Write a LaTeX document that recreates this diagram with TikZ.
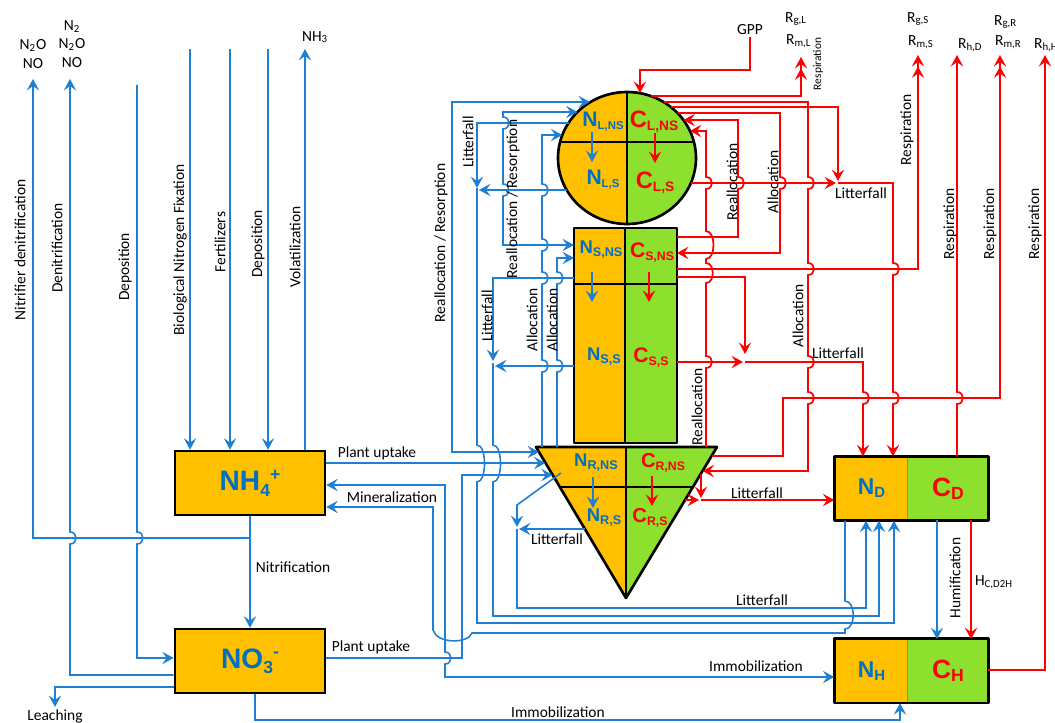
\documentclass[tikz,border=0pt]{standalone}
\usepackage{fontspec}
\setmainfont{Carlito}
\newfontfamily\arialfont{Liberation Sans}
\usetikzlibrary{arrows.meta,positioning}

\definecolor{poolN}{HTML}{FFC000}
\definecolor{poolNedge}{HTML}{C08A00}
\definecolor{poolC}{HTML}{8EE02E}
\definecolor{flowN}{HTML}{1F7FD2}
\definecolor{textN}{HTML}{0070C0}
\definecolor{flowC}{HTML}{FF0000}

% jump over a crossing line (going down / going up)
\newcommand{\jd}[2]{-- (#1,#2-6) .. controls (#1+8,#2-6) and (#1+8,#2+6) .. (#1,#2+6)}
\newcommand{\ju}[2]{-- (#1,#2+6) .. controls (#1+8,#2+6) and (#1+8,#2-6) .. (#1,#2-6)}
% lowered index of a pool name
\newcommand{\lo}[2]{\raisebox{-1.8pt}{\fontsize{#1}{#1}\selectfont #2}}

\tikzset{
  nflow/.style={draw=flowN, line width=0.9pt},
  cflow/.style={draw=flowC, line width=1pt},
  lbl/.style={font=\fontsize{8.8}{10.5}\selectfont, inner sep=1pt},
  vlbl/.style={lbl, rotate=90},
  ntxt/.style={text=textN, font=\arialfont\bfseries\fontsize{#1}{#1}\selectfont, inner sep=0pt},
  ctxt/.style={text=flowC, font=\arialfont\bfseries\fontsize{#1}{#1}\selectfont, inner sep=0pt},
  npool/.style={draw=poolNedge, line width=0.8pt, fill=poolN, minimum width=1.46cm, minimum height=1.26cm},
  cpool/.style={fill=poolC, minimum width=1.6cm, minimum height=1.26cm},
  soil/.style={draw, line width=1.5pt, fill=poolN, minimum width=3cm, minimum height=1.28cm,
    text=textN, font=\arialfont\bfseries\fontsize{16}{16}\selectfont},
  rim/.style={line width=1.5pt, line join=round},
  >={Stealth[length=6.5pt, width=7pt, inset=2.5pt]}
}

\begin{document}
\begin{tikzpicture}[x=0.02cm, y=-0.02cm]
\useasboundingbox (0,0) rectangle (1055,723);

% ---- plant pools
% leaf
\begin{scope}
  \clip (627,158) ellipse [x radius=69, y radius=66];
  \fill[poolN] (550,85) rectangle (627,230);
  \fill[poolC] (627,85) rectangle (705,230);
  \draw[rim] (550,142) -- (705,142) (627,85) -- (627,230);
\end{scope}
\draw[rim] (627,158) ellipse [x radius=69, y radius=66];
% stem
\fill[poolN] (574,228) rectangle (625,443);
\fill[poolC] (625,228) rectangle (677,443);
\draw[rim] (574,228) rectangle (677,443);
\draw[rim] (625,228) -- (625,443) (574,284) -- (677,284);
% root
\fill[poolN] (536,447) -- (626,447) -- (626,598) -- cycle;
\fill[poolC] (626,447) -- (717,447) -- (626,598) -- cycle;
\draw[rim] (536,447) -- (717,447) -- (626,598) -- cycle;
\draw[rim] (626,447) -- (626,598) (560,487) -- (693,487);

\node[ntxt=12] (nlns) at (603,122) {N\lo{6.5}{L,NS}};
\node[ctxt=13.5] (clns) at (654,122) {C\lo{7.8}{L,NS}};
\node[ntxt=12] (nls) at (603,180) {N\lo{6.5}{L,S}};
\node[ctxt=13.5] (cls) at (655,183) {C\lo{7.8}{L,S}};
\node[ntxt=10.5] (nsns) at (601,250) {N\lo{7.2}{S,NS}};
\node[ctxt=12] (csns) at (652,253) {C\lo{7}{S,NS}};
\node[ntxt=10.5] (nss) at (604,357) {N\lo{7.2}{S,S}};
\node[ctxt=12] (css) at (651,358) {C\lo{7}{S,S}};
\node[ntxt=10.5] (nrns) at (596,463) {N\lo{7.2}{R,NS}};
\node[ctxt=11.5] (crns) at (663,463) {C\lo{7}{R,NS}};
\node[ntxt=10.5] (nrs) at (604,518) {N\lo{7.2}{R,S}};
\node[ctxt=11.5] (crs) at (650,518) {C\lo{7}{R,S}};

\draw[nflow,->] (592,132) -- (592,162);
\draw[cflow,->] (655,133) -- (655,163);
\draw[nflow,->] (592,272) -- (592,302);
\draw[cflow,->] (649,272) -- (649,302);
\draw[nflow,->] (593,477) -- (593,508);
\draw[cflow,->] (652,476) -- (652,506);

% ---- soil pools
\node[soil] (nh4) at (250,483) {NH\raisebox{-3pt}{\fontsize{10}{10}\selectfont 4}\raisebox{6pt}{\fontsize{10}{10}\selectfont +}};
\node[soil] (no3) at (250,661) {NO\raisebox{-3pt}{\fontsize{10}{10}\selectfont 3}\raisebox{6pt}{\fontsize{10}{10}\selectfont -}};
\node[npool, ntxt=13] (nd) at (871.5,488.5) {N\lo{8.5}{D}};
\node[cpool, ctxt=15] (cd) at (948,488.5) {C\lo{10}{D}};
\draw[rim] (nd.north west) rectangle (cd.south east);
\node[npool, ntxt=13] (nh) at (871.5,671) {N\lo{8.5}{H}};
\node[cpool, ctxt=15] (ch) at (948,671) {C\lo{10}{H}};
\draw[rim] (nh.north west) rectangle (ch.south east);

% ---- nitrogen, soil side
\draw[nflow,->] (190,49) -- (nh4.north -| 190,0);
\draw[nflow,->] (230,49) -- (nh4.north -| 230,0);
\draw[nflow,->] (268,49) -- (nh4.north -| 268,0);
\draw[nflow,->] (nh4.north -| 305,0) -- (305,49);
\draw[nflow,->] (nh4.south -| 250,0) -- (no3.north -| 250,0);
\coordinate (nit) at (250,538);
\draw[nflow,->] (nit) -- (33,538) -- (33,79);
\draw[nflow,->] (no3.west |- 0,675) -- (70,675) \ju{70}{538} -- (70,79);
\draw[nflow,->] (137,85) \jd{137}{538} -- (137,658) -- (no3.west |- 0,658);
\draw[nflow,->] (no3.west |- 0,687) -- (55,687) -- (55,707);
\draw[nflow,->] (no3.south -| 255,0) -- (255,720) -- (900,720) -- (nh.south -| 900,0);

% ---- nitrogen, plant side
\coordinate (rtA) at (539,452);
\coordinate (rtB) at (545.5,463);
\coordinate (rtC) at (552.7,475);
\draw[nflow,->] (nh4.east |- 0,463) -- (rtB);
\draw[nflow,->] (no3.east |- 0,658) -- (462,658) -- (462,475) -- (rtC);
\draw[nflow,<->] (nh4.east |- 0,485) -- (445,485) \jd{445}{658} -- (445,677) -- (nh.west |- 0,677);
\draw[nflow,->] (nd.south -| 845,0) -- (845,601) .. controls (856,601) and (856,629) .. (845,629)
  -- (845,633) -- (472,633) .. controls (468,644) and (437,644) .. (433,630) -- (433,507) -- (nh4.east |- 0,507);
\draw[nflow,<->] (590,102) -- (452,102) -- (452,452) -- (rtA);
\draw[nflow,<->] (577.5,112) -- (503,112) \jd{503}{123} \jd{503}{190} -- (503,245) -- (574,245);
% litterfall to the litter pool
\draw[nflow,->] (568.5,123) -- (477,123) -- (477,188);
\draw[nflow,->] (566.7,190) -- (479,190);
\draw[nflow,->] (477,188) -- (477,445) .. controls (487,445) and (487,482) .. (477,482)
  -- (477,623) -- (894,623) -- (nd.south -| 894,0);
\draw[nflow,->] (574,278) -- (493,278) -- (493,361);
\draw[nflow,->] (574,366) -- (495,366);
\draw[nflow,->] (493,363) -- (493,445) .. controls (503,445) and (503,482) .. (493,482)
  -- (493,616) -- (879,616) -- (nd.south -| 879,0);
\draw[nflow,->] (561,473) -- (517,505) -- (517,527);
\draw[nflow,->] (585,529) -- (519,529);
\draw[nflow,->] (517,529) -- (517,608) -- (866,608) -- (nd.south -| 866,0);
% allocation
\draw[nflow,->] (542,447) \ju{542}{366} \ju{542}{278} \ju{542}{245} \ju{542}{190} -- (542,135) -- (562.3,135);
\draw[nflow,->] (557,447) \ju{557}{366} \ju{557}{278} -- (557,258) -- (574,258);
\draw[nflow,->] (cd.south -| 937,0) -- (ch.north -| 937,0);

% ---- carbon
\node[lbl] (gpp) at (750,30) {GPP};
\draw[cflow,->] (gpp.south) -- (750,70) -- (640,70) -- (640,93);
\draw[cflow,->>] (650.7,96) -- (801,96) -- (801,57);
\draw[cflow,->] (663.5,102) -- (808,102) \jd{808}{183} \jd{808}{269} \jd{808}{362} \jd{808}{398} -- (808,471) -- (702.5,471);
\draw[cflow,->] (670.8,107) -- (838,107) -- (838,181);
\draw[cflow,->] (690.9,183) -- (836,183);
\draw[cflow,->] (838,183) -- (893,183) \jd{893}{269} \jd{893}{398} -- (nd.north -| 893,0);
\draw[cflow,->] (677.5,113) -- (780,113) \jd{780}{183} -- (780,253) -- (677,253);
\draw[cflow,->] (677,237) -- (738,237) \ju{738}{183} -- (738,120) -- (683.4,120);
\draw[cflow,->] (706,447) \ju{706}{362} -- (706,283) .. controls (715,283) and (715,263) .. (706,263)
  -- (706,259) .. controls (716,259) and (716,231) .. (706,231) \ju{706}{183} -- (706,131) -- (689.9,131);
\draw[cflow,->>] (677,269) -- (918,269) -- (918,55);
\draw[cflow,->] (677,277) -- (745,277) -- (745,354);
\draw[cflow,->] (677,362) -- (743,362);
\draw[cflow,->] (745,362) -- (863,362) \jd{863}{398} -- (nd.north -| 863,0);
\draw[cflow,->>] (711.6,456) -- (783,456) -- (783,398) -- (1000,398) -- (1000,55);
\draw[cflow,->] (701,474) -- (701,498);
\draw[cflow,->] (685,500) -- (699,500);
\draw[cflow,->] (701,500) -- (nd.west |- 0,500);
\draw[cflow,->] (cd.north -| 957,0) \ju{957}{398} -- (957,55);
\draw[cflow,->] (ch.east |- 0,670) -- (1045,670) -- (1045,55);
\draw[cflow,->] (cd.south -| 971,0) -- (ch.north -| 971,0);

% ---- labels
\node[lbl, align=center] (gas1) at (33,54) {N\textsubscript{2}O\\NO};
\node[lbl, align=center] (gas2) at (72,44) {N\textsubscript{2}\\N\textsubscript{2}O\\NO};
\node[lbl] (nh3) at (315,37) {NH\textsubscript{3}};
\node[vlbl] (l1) at (20,250) {Nitrifier denitrification};
\node[vlbl] (l2) at (57,248) {Denitrification};
\node[vlbl] (l3) at (125,267) {Deposition};
\node[vlbl] (l4) at (180,250) {Biological Nitrogen Fixation};
\node[vlbl] (l5) at (220,242) {Fertilizers};
\node[vlbl] (l6) at (258,244) {Deposition};
\node[vlbl] (l7) at (295,247) {Volatilization};
\node[lbl] (l8) at (377,453) {Plant uptake};
\node[lbl] (l9) at (392,497) {Mineralization};
\node[lbl] (l10) at (293,567) {Nitrification};
\node[lbl] (l11) at (371,647) {Plant uptake};
\node[lbl] (l12) at (55,716) {Leaching};
\node[lbl] (l13) at (558,712) {Immobilization};
\node[lbl] (l14) at (756,666) {Immobilization};
\node[lbl] (l15) at (762,600) {Litterfall};
\node[lbl] (l16) at (557,539) {Litterfall};
\node[vlbl] (l17) at (441,243) {Reallocation / Resorption};
\node[vlbl] (l18) at (513,199) {Reallocation / Resorption};
\node[vlbl] (l19) at (468,142) {Litterfall};
\node[vlbl] (l20) at (487,316) {Litterfall};
\node[vlbl] (l21) at (532,320) {Allocation};
\node[vlbl] (l22) at (552,320) {Allocation};
\node[vlbl] (l23) at (955,578) {Humification};
\node[lbl] (l24) at (994,582) {H\textsubscript{C,D2H}};
\node[vlbl] (l25) at (732,182) {Reallocation};
\node[vlbl] (l26) at (773,182) {Allocation};
\node[vlbl] (l27) at (697,407) {Reallocation};
\node[vlbl] (l28) at (798,316) {Allocation};
\node[lbl] (l29) at (861,193) {Litterfall};
\node[lbl] (l30) at (838,353) {Litterfall};
\node[lbl] (l31) at (757,493) {Litterfall};
\node[vlbl, font=\fontsize{6.5}{7}\selectfont] (l32) at (818,64) {Respiration};
\node[vlbl] (l33) at (907,130) {Respiration};
\node[vlbl] (l34) at (950,224) {Respiration};
\node[vlbl] (l35) at (990,224) {Respiration};
\node[vlbl] (l36) at (1035,224) {Respiration};
\node[lbl, anchor=west] (r1) at (783,19) {R\textsubscript{g,L}};
\node[lbl, anchor=west] (r2) at (784,41) {R\textsubscript{m,L}};
\node[lbl, anchor=west] (r3) at (905,19) {R\textsubscript{g,S}};
\node[lbl, anchor=west] (r4) at (906,42) {R\textsubscript{m,S}};
\node[lbl, anchor=west] (r5) at (956,45) {R\textsubscript{h,D}};
\node[lbl, anchor=west] (r6) at (992,22) {R\textsubscript{g,R}};
\node[lbl, anchor=west] (r7) at (993,42) {R\textsubscript{m,R}};
\node[lbl, anchor=west] (r8) at (1032,45) {R\textsubscript{h,H}};
\end{tikzpicture}
\end{document}
